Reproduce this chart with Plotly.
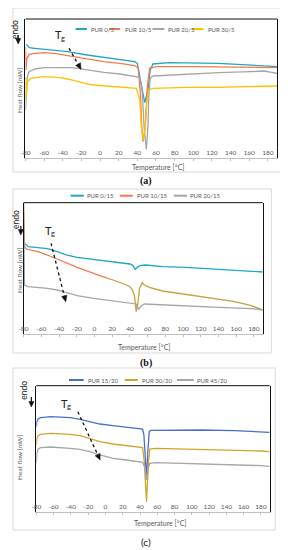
import plotly.graph_objects as go

# The page body has an 8px margin, so the figure is drawn 8px in from the top-left.
OFF = 8
W, H = 288 - OFF, 550 - OFF

# ---------------- DATA (heat flow, arbitrary mW offset) ----------------
# Panel (a)
A_T_0_5 = [-79, -76, -70, -60, -45, -35, -14, 4, 21, 37, 40, 42.6, 45.4, 47.9, 51.4, 53.8, 56.7, 74, 127, 162, 190]
A_HF_0_5 = [3.42, 3.32, 3.30, 3.27, 3.23, 3.20, 3.10, 3.03, 2.97, 2.90, 2.85, 2.45, 1.95, 1.67, 2.05, 2.65, 2.83, 2.87, 2.85, 2.80, 2.75]

A_T_10_5 = [-80, -79.5, -78.5, -76, -70, -60, -49, -35, -14, 4, 21.5, 37, 40.8, 43.3, 44.7, 46.1, 48.5, 50.7, 53.2, 60, 100, 150, 190]
A_HF_10_5 = [3.35, 2.65, 3.00, 3.12, 3.15, 3.17, 3.15, 3.08, 2.98, 2.90, 2.85, 2.78, 2.72, 1.95, 0.95, 0.50, 0.95, 2.15, 2.70, 2.75, 2.75, 2.74, 2.72]

A_T_20_5 = [-80, -79.5, -78, -76, -70, -60, -45.5, -31.4, -24, -14, 4, 21.5, 37, 42.6, 45.4, 47.2, 49.6, 51.4, 52.4, 53.8, 56.7, 92, 127, 162, 176, 190]
A_HF_20_5 = [1.45, 1.85, 2.45, 2.60, 2.68, 2.72, 2.73, 2.72, 2.70, 2.65, 2.58, 2.53, 2.47, 2.43, 1.95, 0.95, 0.27, 0.95, 1.95, 2.40, 2.47, 2.53, 2.57, 2.60, 2.62, 2.55]

A_T_30_5 = [-80, -79.5, -78, -74, -60, -45.5, -35, -24, -14, -6.7, 4, 21.5, 39, 42.6, 44.3, 46.4, 48.5, 50.3, 52.1, 56.7, 92, 127, 162, 190]
A_HF_30_5 = [2.45, 1.80, 2.30, 2.40, 2.45, 2.43, 2.38, 2.30, 2.23, 2.20, 2.18, 2.15, 2.10, 1.75, 0.95, 0.55, 0.95, 1.75, 2.05, 2.10, 2.13, 2.13, 2.15, 2.17]

# Panel (b)
B_T_0_15 = [-80, -79, -75, -64, -53, -42, -31, -19.5, -1, 21, 40, 43.5, 46, 49, 52.8, 58, 77, 103, 140, 177, 190]
B_HF_0_15 = [3.13, 2.73, 2.63, 2.61, 2.57, 2.48, 2.38, 2.31, 2.25, 2.18, 2.11, 2.07, 1.95, 2.03, 2.07, 2.08, 2.03, 2.01, 1.96, 1.90, 1.87]

B_T_10_15_lo = [-80, -79, -77, -64, -53, -42, -31, -19.5, -1, 15]
B_HF_10_15_lo = [3.95, 2.63, 2.56, 2.48, 2.38, 2.26, 2.13, 2.01, 1.83, 1.68]
B_T_10_15_hi = [15, 21, 36, 40, 43, 45.3, 47.1, 49, 50.9, 53.8, 56.5, 62, 77, 103, 140, 158.5, 177, 190]
B_HF_10_15_hi = [1.68, 1.63, 1.48, 1.43, 1.33, 1.13, 0.68, 0.93, 1.38, 1.55, 1.48, 1.41, 1.30, 1.20, 1.06, 0.98, 0.86, 0.73]

B_T_20_15 = [-80, -79.5, -79, -75, -64, -53, -42, -31, -19.5, -1, 21, 40, 45, 47.1, 50.1, 52.7, 56.5, 77, 103, 140, 177, 190]
B_HF_20_15 = [3.63, 1.73, 1.48, 1.43, 1.41, 1.38, 1.33, 1.25, 1.16, 1.08, 1.01, 0.95, 0.93, 0.91, 0.75, 0.85, 0.91, 0.88, 0.85, 0.81, 0.77, 0.73]

# Panel (c)
C_T_15_20 = [-80, -79.5, -78, -75, -63.6, -52.2, -40.8, -29.4, -18, -6.5, 8.7, 23.9, 39.1, 43, 44.5, 45.6, 47.5, 49, 50.6, 52.5, 73.4, 111.5, 149.5, 180, 190]
C_HF_15_20 = [2.57, 2.72, 2.80, 2.84, 2.87, 2.86, 2.84, 2.79, 2.72, 2.65, 2.60, 2.56, 2.52, 2.50, 2.32, 1.82, 1.02, 1.82, 2.42, 2.46, 2.47, 2.47, 2.45, 2.42, 2.40]

C_T_30_20 = [-80, -79.5, -78, -75, -63.6, -52.2, -40.8, -29.4, -18, -6.5, 8.7, 23.9, 39.1, 43, 44.9, 47.5, 49.8, 51.3, 58.2, 73.4, 111.5, 149.5, 180, 190]
C_HF_30_20 = [2.02, 2.22, 2.30, 2.34, 2.37, 2.36, 2.34, 2.30, 2.22, 2.12, 2.05, 2.00, 1.96, 1.94, 1.52, 0.32, 1.52, 1.90, 1.92, 1.91, 1.89, 1.87, 1.84, 1.82]

C_T_45_20 = [-80, -79.5, -78, -75, -63.6, -52.2, -40.8, -29.4, -18, -6.5, 8.7, 23.9, 39.1, 43, 45.2, 47.5, 49.4, 51.3, 58.2, 73.4, 111.5, 149.5, 180, 190]
C_HF_45_20 = [1.47, 1.77, 1.90, 1.94, 1.96, 1.95, 1.92, 1.89, 1.82, 1.72, 1.62, 1.57, 1.52, 1.50, 1.37, 0.97, 1.32, 1.47, 1.49, 1.48, 1.46, 1.44, 1.40, 1.38]

X_TICKS = [-80, -60, -40, -20, 0, 20, 40, 60, 80, 100, 120, 140, 160, 180]
X_TICK_LABELS = ["-80", "-60", "-40", "-20", "0", "20", "40", "60", "80", "100", "120", "140", "160", "180"]
X_RANGE = [-80, 190]

# ---------------- STYLE ----------------
TEAL = "#22A4CA"
ORANGE = "#F47A4E"
GRAY = "#A5A5A5"
YELLOW = "#FFC000"
OLIVE = "#C4A23E"
BLUE = "#4A6ED0"
GOLD = "#CFA52B"
TXT = "#595959"
FONT = "Lato"


def px(x):
    return (x - OFF) / W


def py(y):
    return 1 - (y - OFF) / H


# panel geometry in page pixels: left, right, top, bottom, y-range max
panels = [
    dict(l=20.7, r=277.0, t=19.0, b=158.3, ymax=4.18),
    dict(l=18.8, r=262.3, t=202.7, b=334.3, ymax=3.95),
    dict(l=31.8, r=269.3, t=385.7, b=512.3, ymax=3.80),
]

series = [
    [("PUR 0/5", A_T_0_5, A_HF_0_5, TEAL),
     ("PUR 10/5", A_T_10_5, A_HF_10_5, ORANGE),
     ("PUR 20/5", A_T_20_5, A_HF_20_5, GRAY),
     ("PUR 30/5", A_T_30_5, A_HF_30_5, YELLOW)],
    [("PUR 0/15", B_T_0_15, B_HF_0_15, TEAL),
     ("PUR 10/15", B_T_10_15_lo, B_HF_10_15_lo, ORANGE),
     ("PUR 10/15", B_T_10_15_hi, B_HF_10_15_hi, OLIVE),
     ("PUR 20/15", B_T_20_15, B_HF_20_15, GRAY)],
    [("PUR 15/20", C_T_15_20, C_HF_15_20, BLUE),
     ("PUR 30/20", C_T_30_20, C_HF_30_20, GOLD),
     ("PUR 45/20", C_T_45_20, C_HF_45_20, GRAY)],
]

fig = go.Figure()
layout = {}
shapes = []
annotations = []

for i, (pan, ser) in enumerate(zip(panels, series)):
    n = "" if i == 0 else str(i + 1)
    xa, ya = "x" + n, "y" + n
    for name, t, hf, col in ser:
        fig.add_trace(go.Scatter(x=t, y=hf, mode="lines", name=name,
                                 line=dict(color=col, width=1.3),
                                 xaxis=xa, yaxis=ya, showlegend=False,
                                 hoverinfo="skip"))
    layout["xaxis" + n] = dict(
        domain=[px(pan["l"]), px(pan["r"])], anchor=ya, range=X_RANGE,
        tickvals=X_TICKS, ticktext=X_TICK_LABELS,
        ticklabelposition="inside", ticklabeloverflow="allow",
        ticks="outside", ticklen=2, tickcolor="#BFBFBF",
        showline=True, linecolor="#BFBFBF", linewidth=1,
        showgrid=False, zeroline=False,
        tickfont=dict(family=FONT, size=6.5, color=TXT),
    )
    layout["yaxis" + n] = dict(
        domain=[py(pan["b"]), py(pan["t"])], anchor=xa, range=[0, pan["ymax"]],
        showticklabels=False, ticks="", showgrid=False, zeroline=False,
        showline=True, linecolor="#111111", linewidth=1, mirror=True,
    )
    shapes.append(dict(type="line", xref=xa + " domain", yref=ya + " domain",
                       x0=0, x1=1, y0=1, y1=1, line=dict(color="#111111", width=1)))

# panel borders (light gray)
for (x0, x1, y0, y1) in [(7, 282, 5, 172), (3, 271, 189, 353), (5.5, 275, 368, 530)]:
    shapes.append(dict(type="rect", xref="paper", yref="paper",
                       x0=px(max(x0, OFF)), x1=px(x1), y0=py(y1), y1=py(max(y0, OFF)),
                       line=dict(color="#D9D9D9", width=1), layer="below"))

# manual legends
legend_specs = [
    (29, [(71.7, 83.3, 85), (106, 117, 119.5), (150, 162, 164), (190, 202, 204)],
     ["PUR 0/5", "PUR 10/5", "PUR 20/5", "PUR 30/5"], [TEAL, ORANGE, GRAY, YELLOW]),
    (195.7, [(66.7, 80, 81.5), (116.7, 130, 132), (171.7, 185, 186.5)],
     ["PUR 0/15", "PUR 10/15", "PUR 20/15"], [TEAL, ORANGE, GRAY]),
    (380, [(65, 80, 82), (121.7, 135, 137), (175, 192, 193.5)],
     ["PUR 15/20", "PUR 30/20", "PUR 45/20"], [BLUE, GOLD, GRAY]),
]
for y, pos, names, cols in legend_specs:
    for (lx0, lx1, tx), nm, col in zip(pos, names, cols):
        shapes.append(dict(type="line", xref="paper", yref="paper",
                           x0=px(lx0), x1=px(lx1), y0=py(y), y1=py(y),
                           line=dict(color=col, width=2)))
        annotations.append(dict(text=nm, x=px(tx), y=py(y), xref="paper", yref="paper",
                                xanchor="left", yanchor="middle", showarrow=False,
                                font=dict(family=FONT, size=6, color=TXT)))

# axis titles
for (x, y) in [(156, 167), (141, 347), (158, 523)]:
    annotations.append(dict(text="Temperature [°C]", x=px(x), y=py(y), xref="paper", yref="paper",
                            xanchor="center", yanchor="middle", showarrow=False,
                            font=dict(family=FONT, size=7, color=TXT)))
for (x, y) in [(15, 90), (14, 270), (14, 457)]:
    annotations.append(dict(text="Heat flow [mW]", x=px(x), y=py(y), xref="paper", yref="paper",
                            xanchor="center", yanchor="middle", showarrow=False, textangle=-90,
                            font=dict(family=FONT, size=6.5, color=TXT)))

# captions
for (txt, x, y, fam) in [("<b>(a)</b>", 143, 181, "Liberation Serif"),
                         ("<b>(b)</b>", 143, 363, "Liberation Serif"),
                         ("(c)", 143, 542, FONT)]:
    annotations.append(dict(text=txt, x=px(x), y=py(y), xref="paper", yref="paper",
                            xanchor="center", yanchor="middle", showarrow=False,
                            font=dict(family=fam, size=10, color="#111111")))

# Tg labels: "T" with a lowered small "g"
for (x, y) in [(48.3, 35), (38.3, 230), (55, 403)]:
    annotations.append(dict(text="T", x=px(x), y=py(y), xref="paper", yref="paper",
                            xanchor="left", yanchor="middle", showarrow=False,
                            font=dict(family=FONT, size=11, color="#222222")))
    annotations.append(dict(text="g", x=px(x + 6.3), y=py(y + 3.5), xref="paper", yref="paper",
                            xanchor="left", yanchor="middle", showarrow=False,
                            font=dict(family=FONT, size=7.5, color="#222222")))


def arrow_head(x0, y0, x1, y1, length=6.0, half=2.6):
    dx, dy = x1 - x0, y1 - y0
    L = (dx * dx + dy * dy) ** 0.5
    ux, uy = dx / L, dy / L
    bx, by = x1 - ux * length, y1 - uy * length
    p1 = (bx - uy * half, by + ux * half)
    p2 = (bx + uy * half, by - ux * half)
    path = "M {:.5f},{:.5f} L {:.5f},{:.5f} L {:.5f},{:.5f} Z".format(
        px(x1), py(y1), px(p1[0]), py(p1[1]), px(p2[0]), py(p2[1]))
    return dict(type="path", xref="paper", yref="paper", path=path,
                fillcolor="#111111", line=dict(color="#111111", width=0.5))


# endo labels + arrows
for (tx, ty, ax_, y0, y1) in [(10, 29, 13.3, 35, 44), (11, 219, 16, 226, 235), (19, 390, 26.7, 397, 407)]:
    annotations.append(dict(text="endo", x=px(tx), y=py(ty), xref="paper", yref="paper",
                            xanchor="center", yanchor="middle", showarrow=False, textangle=-90,
                            font=dict(family=FONT, size=8.5, color="#222222")))
    shapes.append(dict(type="line", xref="paper", yref="paper",
                       x0=px(ax_), x1=px(ax_), y0=py(y0), y1=py(y1 - 3),
                       line=dict(color="#111111", width=1.2)))
    shapes.append(arrow_head(ax_, y0, ax_, y1, length=5.5, half=2.6))

# dashed Tg arrows
for (x0, y0, x1, y1) in [(65, 48.3, 77.3, 69.3), (46.7, 243.3, 61.7, 301.7), (74, 411.7, 96.7, 460)]:
    shapes.append(dict(type="line", xref="paper", yref="paper",
                       x0=px(x0), y0=py(y0), x1=px(x1), y1=py(y1),
                       line=dict(color="#111111", width=1.3, dash="dot")))
    shapes.append(arrow_head(x0, y0, x1, y1, length=6, half=2.8))

fig.update_layout(
    width=W, height=H, margin=dict(l=0, r=0, t=0, b=0),
    paper_bgcolor="white", plot_bgcolor="white",
    showlegend=False, shapes=shapes, annotations=annotations,
    **layout,
)

fig.write_html("out.html")
